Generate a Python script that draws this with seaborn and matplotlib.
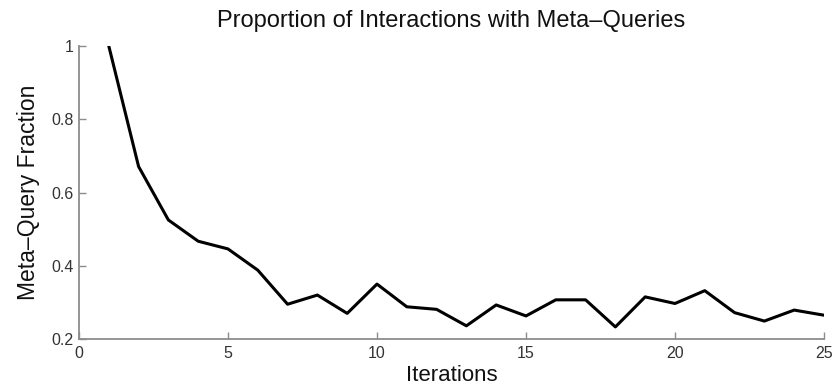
import matplotlib
matplotlib.use("Agg")
import matplotlib.pyplot as plt
import seaborn as sns
import pandas as pd

iterations = list(range(1, 26))
meta_fraction = [1.00, 0.671, 0.525, 0.467, 0.446, 0.388, 0.295, 0.320, 0.270, 0.350,
                 0.288, 0.281, 0.236, 0.293, 0.263, 0.307, 0.307, 0.233, 0.315, 0.297,
                 0.332, 0.272, 0.249, 0.279, 0.265]
x_ticks = [0, 5, 10, 15, 20, 25]
y_ticks = [0.2, 0.4, 0.6, 0.8, 1.0]
y_tick_labels = ["0.2", "0.4", "0.6", "0.8", "1"]

sns.set_style("ticks")
plt.rcParams["font.family"] = ["Liberation Sans", "DejaVu Sans"]

df = pd.DataFrame({"Iterations": iterations, "Fraction": meta_fraction})

fig = plt.figure(figsize=(8.35, 3.89), dpi=100)
ax = fig.add_axes([0.0946, 0.1285, 0.8922, 0.7532])
sns.lineplot(data=df, x="Iterations", y="Fraction", ax=ax, color="black", linewidth=2.2)

ax.set_xlim(0, 25)
ax.set_ylim(0.2, 1.0)
ax.set_xticks(x_ticks)
ax.set_yticks(y_ticks)
ax.set_yticklabels(y_tick_labels)

grey = "#8c8c8c"
for side in ("top", "right"):
    ax.spines[side].set_visible(False)
for side in ("left", "bottom"):
    ax.spines[side].set_color(grey)
    ax.spines[side].set_linewidth(1.3)
ax.tick_params(direction="in", length=5, width=1, color=grey, labelcolor="#333333",
               labelsize=11.5)
ax.tick_params(axis="x", pad=5)
ax.tick_params(axis="y", pad=4)

ax.set_title("Proportion of Interactions with Meta\u2013Queries", fontsize=17, color="#111111", pad=14)
ax.set_xlabel("Iterations", fontsize=16, color="#111111", va="center")
ax.set_ylabel("Meta\u2013Query Fraction", fontsize=16.5, color="#111111", va="center")
ax.xaxis.set_label_coords(0.5, -0.125)
ax.yaxis.set_label_coords(-0.068, 0.5)

fig.savefig("out.png", dpi=100)
